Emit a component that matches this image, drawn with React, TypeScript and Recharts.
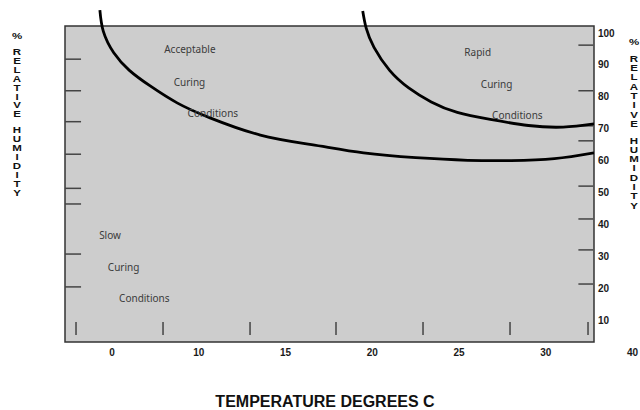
import {
  LineChart, Line, XAxis, YAxis, ReferenceArea, ReferenceLine, ReferenceDot,
} from 'recharts'

// x axis runs in label slots: slot i sits under TEMP_LABELS[i]
const TEMP_LABELS = ['0', '10', '15', '20', '25', '30', '40']
const TEMP_SLOTS = [0, 1, 2, 3, 4, 5, 6]
const RH_TICKS = [10, 20, 30, 40, 50, 60, 70, 80, 90, 100]

// lower boundary: acceptable curing
const acceptX = [-0.14, -0.1, 0.02, 0.2, 0.44, 0.75, 1.13, 1.71, 2.3, 2.9, 3.5, 4.1, 4.6, 5.1, 5.556]
const acceptRH = [107.2, 100.5, 93.8, 88.3, 83.4, 78.1, 73.4, 68.0, 65.0, 62.4, 60.9, 60.1, 60.0, 60.6, 62.4]

// upper boundary: rapid curing
const rapidX = [2.89, 2.93, 3.02, 3.2, 3.42, 3.68, 3.98, 4.36, 4.8, 5.2, 5.556]
const rapidRH = [106.9, 101.5, 95.5, 88.3, 82.8, 78.4, 75.1, 72.9, 71.0, 70.5, 71.5]

const notes = [
  { x: 0.59, y: 94.7, text: 'Acceptable' },
  { x: 0.7, y: 84.6, text: 'Curing' },
  { x: 0.86, y: 74.9, text: 'Conditions' },
  { x: 4.05, y: 94.0, text: 'Rapid' },
  { x: 4.24, y: 84.0, text: 'Curing' },
  { x: 4.37, y: 74.3, text: 'Conditions' },
  { x: -0.16, y: 36.4, text: 'Slow' },
  { x: -0.06, y: 26.6, text: 'Curing' },
  { x: 0.07, y: 16.9, text: 'Conditions' },
]

// stray tick marks drawn inside the frame
const leftMarks = [91.8, 81.9, 72.2, 62.0, 51.3, 46.4, 30.7, 20.4]
const rightMarks = [96.2, 81.9, 70.9, 66.2, 52.0, 41.7, 32.0, 21.3]
const bottomMarks = [-0.415, 0.588, 1.591, 2.582, 3.585, 4.588, 5.487]

const X_MIN = -0.542
const X_MAX = 5.556
const BOX_BOTTOM = 3.1
const BOX_TOP = 102.2

const acceptData = acceptX.map((x, i) => ({ x, rh: acceptRH[i] }))
const rapidData = rapidX.map((x, i) => ({ x, rh: rapidRH[i] }))

const tickFont = { fontFamily: 'Liberation Sans, Arial, sans-serif', fontSize: 10, fontWeight: 700, fill: '#1a1a1a' }

function VerticalWord({ left, top, step, words }: { left: number; top: number; step: number; words: string[] }) {
  return (
    <div style={{
      position: 'absolute', left, top, width: 14, textAlign: 'center',
      fontFamily: 'Liberation Sans, Arial, sans-serif', fontWeight: 700, fontSize: 10,
      lineHeight: `${step}px`, color: '#111',
    }}>
      {words.map((w, wi) => (
        <div key={wi} style={{ marginBottom: wi < words.length - 1 ? step * 0.8 : 0 }}>
          {w.split('').map((c, ci) => <div key={ci} style={{ transform: 'scale(1.15, 0.85)' }}>{c}</div>)}
        </div>
      ))}
    </div>
  )
}

export default function App() {
  return (
    <div style={{ position: 'absolute', left: 0, top: 0, width: 640, height: 410, background: '#fff' }}>
      <LineChart width={640} height={410} margin={{ top: 7.5, right: 6, left: 65, bottom: 37.6 }}>
        <XAxis
          type="number" dataKey="x" domain={[X_MIN, X_MAX]} ticks={TEMP_SLOTS} interval={0}
          allowDataOverflow tickFormatter={(v: number) => TEMP_LABELS[v] ?? ''}
          axisLine={false} tickLine={false} tickSize={0} tickMargin={6} height={30} tick={tickFont}
        />
        <YAxis
          orientation="right" type="number" domain={[3, 108]} ticks={RH_TICKS} interval={0}
          allowDataOverflow axisLine={false} tickLine={false} tickSize={0} tickMargin={4} width={40}
          tick={tickFont}
        />
        <ReferenceArea
          x1={X_MIN} x2={X_MAX} y1={BOX_BOTTOM} y2={BOX_TOP}
          fill="#cdcdcd" fillOpacity={1} stroke="#333" strokeWidth={1.5}
        />
        {leftMarks.map((v, i) => (
          <ReferenceLine key={'l' + i} segment={[{ x: X_MIN, y: v }, { x: X_MIN + 0.185, y: v }]} stroke="#444" strokeWidth={1.5} />
        ))}
        {rightMarks.map((v, i) => (
          <ReferenceLine key={'r' + i} segment={[{ x: X_MAX - 0.18, y: v }, { x: X_MAX - 0.01, y: v }]} stroke="#444" strokeWidth={1.5} />
        ))}
        {bottomMarks.map((p, i) => (
          <ReferenceLine key={'b' + i} segment={[{ x: p, y: 5.3 }, { x: p, y: 9.4 }]} stroke="#444" strokeWidth={1.5} />
        ))}
        {notes.map((n, i) => (
          <ReferenceDot
            key={'n' + i} x={n.x} y={n.y} r={1} fill="none" stroke="none"
            label={{ value: n.text, position: 'right', offset: 0, fontSize: 10, fill: '#3b3b3b', fontFamily: 'Noto Sans, sans-serif' }}
          />
        ))}
        <Line data={acceptData} dataKey="rh" type="natural" stroke="#000" strokeWidth={2.8} dot={false} isAnimationActive={false} />
        <Line data={rapidData} dataKey="rh" type="natural" stroke="#000" strokeWidth={2.8} dot={false} isAnimationActive={false} />
      </LineChart>
      <VerticalWord left={10} top={32} step={8.9} words={['%', 'RELATIVE', 'HUMIDITY']} />
      <VerticalWord left={627} top={38} step={9.3} words={['%', 'RELATIVE', 'HUMIDITY']} />
      <div style={{
        position: 'absolute', left: 0, width: 650, top: 393, textAlign: 'center',
        fontFamily: 'Liberation Sans, Arial, sans-serif', fontWeight: 700, fontSize: 16, color: '#111',
      }}>
        TEMPERATURE DEGREES C
      </div>
    </div>
  )
}
